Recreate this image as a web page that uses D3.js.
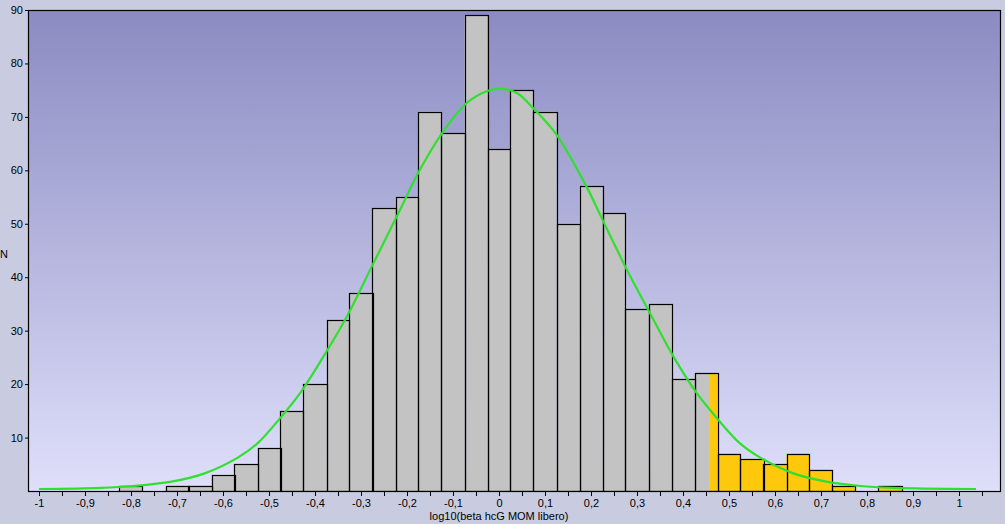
<!DOCTYPE html>
<html><head><meta charset="utf-8">
<script src="https://cdn.jsdelivr.net/npm/d3@7"></script>
<style>
html,body{margin:0;padding:0;background:#c9cce1;}
svg{display:block;font-family:"Liberation Sans",Arial,sans-serif;}
</style></head>
<body>
<svg id="c" width="1005" height="524"></svg>
<script>
// ---- data ----
const binCenters = [-0.8,-0.75,-0.7,-0.65,-0.6,-0.55,-0.5,-0.45,-0.4,-0.35,-0.3,-0.25,-0.2,-0.15,-0.1,-0.05,0,0.05,0.1,0.15,0.2,0.25,0.3,0.35,0.4,0.45,0.5,0.55,0.6,0.65,0.7,0.75,0.8,0.85];
const counts     = [1,0,1,1,3,5,8,15,20,32,37,53,55,71,67,89,64,75,71,50,57,52,34,35,21,22,7,6,5,7,4,1,0,1];
const binWidth = 0.05;
const cutoff = 0.457;
const curveX = [-1.0,-0.867,-0.795,-0.712,-0.64,-0.567,-0.524,-0.477,-0.430,-0.375,-0.331,-0.273,-0.222,-0.172,-0.121,-0.070,-0.027,0.0,0.038,0.078,0.125,0.19,0.227,0.278,0.328,0.379,0.430,0.477,0.524,0.567,0.64,0.712,0.785,0.857,1.037];
const curveY = [0.37,0.6,0.94,1.75,3.3,6.3,9.0,13.5,18.6,26.1,32.6,42.6,51.4,60.1,67.3,72.6,74.8,75.3,74.5,71.3,66.7,57.0,50.4,41.4,33.3,25.2,18.3,13.3,8.9,6.3,3.3,1.75,0.94,0.6,0.37];
const yTicks = [10,20,30,40,50,60,70,80,90];
const xMajor = [-1,-0.9,-0.8,-0.7,-0.6,-0.5,-0.4,-0.3,-0.2,-0.1,0,0.1,0.2,0.3,0.4,0.5,0.6,0.7,0.8,0.9,1];
const xTitle = "log10(beta hcG MOM libero)";
const yTitle = "N";

// ---- layout ----
const L=28, R=1001, T=10, B=491;
const svg = d3.select("#c");
const x = d3.scaleLinear().domain([-1,1]).range([39,959]);
x.domain([x.invert(L), x.invert(R)]).range([L,R]);
const y = d3.scaleLinear().domain([0,90]).range([B,T]);

const defs = svg.append("defs");
const g = defs.append("linearGradient").attr("id","bg").attr("x1",0).attr("y1",0).attr("x2",0).attr("y2",1);
g.append("stop").attr("offset","0%").attr("stop-color","#8b8bc2");
g.append("stop").attr("offset","100%").attr("stop-color","#dfdffb");

svg.append("rect").attr("x",L).attr("y",T).attr("width",R-L).attr("height",B-T).attr("fill","url(#bg)");
defs.append("clipPath").attr("id","clip").append("rect").attr("x",L).attr("y",T).attr("width",R-L).attr("height",B-T);

const plot = svg.append("g").attr("clip-path","url(#clip)");
const bins = binCenters.map((c,i)=>({c, n:counts[i], x0:c-binWidth/2, x1:c+binWidth/2})).filter(d=>d.n>0);

// fills
bins.forEach(d=>{
  if (d.x1 <= cutoff) {
    plot.append("rect").attr("x",x(d.x0)).attr("y",y(d.n)).attr("width",x(d.x1)-x(d.x0)).attr("height",y(0)-y(d.n)).attr("fill","#c3c3c3");
  } else if (d.x0 >= cutoff) {
    plot.append("rect").attr("x",x(d.x0)).attr("y",y(d.n)).attr("width",x(d.x1)-x(d.x0)).attr("height",y(0)-y(d.n)).attr("fill","#fec80c");
  } else {
    plot.append("rect").attr("x",x(d.x0)).attr("y",y(d.n)).attr("width",x(cutoff)-x(d.x0)).attr("height",y(0)-y(d.n)).attr("fill","#c3c3c3");
    plot.append("rect").attr("x",x(cutoff)).attr("y",y(d.n)).attr("width",x(d.x1)-x(cutoff)).attr("height",y(0)-y(d.n)).attr("fill","#fec80c");
  }
});
// outlines
plot.selectAll("rect.o").data(bins).enter().append("rect").attr("class","o")
  .attr("x",d=>Math.round(x(d.x0))+0.5).attr("y",d=>Math.round(y(d.n))+0.5)
  .attr("width",d=>Math.round(x(d.x1))-Math.round(x(d.x0)))
  .attr("height",d=>Math.round(y(0))-Math.round(y(d.n)))
  .attr("fill","none").attr("stroke","#000").attr("stroke-width",1.2);

// fitted curve
const line = d3.line().x((d,i)=>x(curveX[i])).y(d=>y(d)).curve(d3.curveCatmullRom.alpha(0.5));
plot.append("path").attr("d",line(curveY)).attr("fill","none").attr("stroke","#2fe02f").attr("stroke-width",2.2);

// frame
svg.append("rect").attr("x",L+0.5).attr("y",T+0.5).attr("width",R-L-1).attr("height",B-T).attr("fill","none").attr("stroke","#000").attr("stroke-width",1.2);

// y axis
const ya = svg.append("g").attr("transform",`translate(${L},0)`)
  .call(d3.axisLeft(y).tickValues(yTicks).tickSize(3).tickPadding(2).tickFormat(d3.format("d")));
ya.select(".domain").remove();
ya.selectAll("text").attr("font-size",11).attr("fill","#000").attr("font-family","Liberation Sans, Arial, sans-serif");
ya.selectAll("line").attr("stroke","#000");

// x axis
const minor = d3.range(-20,22).map(i=>i*0.05);
const xa = svg.append("g").attr("transform",`translate(0,${B})`)
  .call(d3.axisBottom(x).tickValues(minor).tickSize(5).tickFormat(""));
xa.select(".domain").remove();
xa.selectAll("line").attr("stroke","#000");
const xl = svg.append("g").attr("transform",`translate(0,${B})`)
  .call(d3.axisBottom(x).tickValues(xMajor).tickSize(0).tickPadding(8)
    .tickFormat(v=>String(Math.round(v*10)/10).replace(".",",")));
xl.select(".domain").remove();
xl.selectAll("text").attr("font-size",11).attr("fill","#000").attr("font-family","Liberation Sans, Arial, sans-serif");

svg.append("text").attr("x",(x(-1)+x(1))/2).attr("y",520).attr("text-anchor","middle").attr("font-size",11).attr("fill","#000").text(xTitle);
svg.append("text").attr("x",0).attr("y",258).attr("font-size",11).attr("fill","#000").text(yTitle);
</script>
</body></html>
